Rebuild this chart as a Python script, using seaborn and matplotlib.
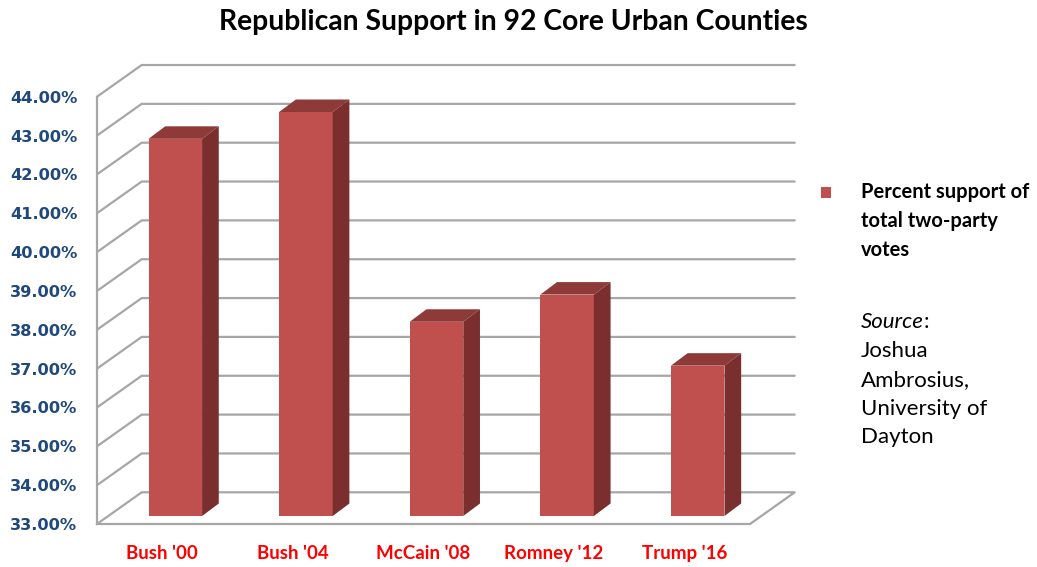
import matplotlib
matplotlib.use("Agg")
import matplotlib.pyplot as plt
import matplotlib.transforms as mtransforms
from matplotlib.patches import Polygon, Rectangle
from matplotlib.lines import Line2D
import seaborn as sns

# data
candidates = ["Bush '00", "Bush '04", "McCain '08", "Romney '12", "Trump '16"]
support = [42.71, 43.40, 38.00, 38.70, 36.87]
y_ticks = [33, 34, 35, 36, 37, 38, 39, 40, 41, 42, 43, 44]
legend_label = "Percent support of\ntotal two-party\nvotes"
source_lines = ["Joshua", "Ambrosius,", "University of", "Dayton"]

BASE = 33
FRONT = "#C0504D"
TOP = "#8E3A38"
SIDE = "#7A2E2D"
GRID = "#A6A6A6"
TICK_BLUE = "#1F497D"

# fake 3d depth, in pixels (display y goes up)
DX, DY = 44.7, 31.7      # back wall offset
FX, FY = 13, 8           # front face of bars
SX, SY = 16.7, 12.5      # bar depth

sns.set_style("white")
plt.rcParams["font.family"] = ["Lato", "DejaVu Sans"]
plt.rcParams["text.color"] = "black"

fig = plt.figure(figsize=(10.37, 5.67), dpi=100)
W, H = 1037, 567
ax = fig.add_axes([97 / W, (H - 524) / H, (750 - 97) / W, (524 - 96.7) / H])

sns.barplot(x=candidates, y=support, width=0.41, color=FRONT, saturation=1,
            ax=ax, zorder=3)
ax.set_xlim(-0.5, 4.5)
ax.set_ylim(BASE, 44)

# walls and gridlines (display coords)
ident = mtransforms.IdentityTransform()
for v in y_ticks:
    x0, y0 = ax.transData.transform((-0.5, v))
    x1, y1 = ax.transData.transform((4.5, v))
    xs = [x0, x0 + DX, x1 + DX]
    ys = [y0, y0 + DY, y1 + DY]
    if v == BASE:
        xs.append(x1)
        ys.append(y1)
    ln = Line2D(xs, ys, color=GRID, lw=1.6, transform=ident, zorder=1)
    ln.set_clip_on(False)
    ax.add_artist(ln)

# bars: front face shifted, plus top and side faces
front_tr = mtransforms.offset_copy(ax.transData, fig=fig, x=FX, y=FY, units="dots")
for p, v in zip(list(ax.patches), support):
    p.set_y(BASE)
    p.set_height(v - BASE)
    p.set_transform(front_tr)
    p.set_clip_on(False)
    p.set_edgecolor("none")
    x0 = p.get_x()
    x1 = x0 + p.get_width()
    (ax0, ay0), (ax1, ay1) = front_tr.transform([(x0, BASE), (x1, v)])
    top = Polygon([(ax0, ay1), (ax1, ay1), (ax1 + SX, ay1 + SY), (ax0 + SX, ay1 + SY)],
                  closed=True, facecolor=TOP, edgecolor="none", transform=ident, zorder=4)
    side = Polygon([(ax1, ay0), (ax1, ay1), (ax1 + SX, ay1 + SY), (ax1 + SX, ay0 + SY)],
                   closed=True, facecolor=SIDE, edgecolor="none", transform=ident, zorder=4)
    for face in (top, side):
        face.set_clip_on(False)
        ax.add_artist(face)

for s in ["top", "right"]:
    ax.spines[s].set_visible(False)
for s in ["left", "bottom"]:
    ax.spines[s].set_color(GRID)
    ax.spines[s].set_linewidth(1.6)
ax.patch.set_alpha(0)

ax.set_yticks(y_ticks)
ax.set_yticklabels([f"{v:.2f}%" for v in y_ticks], color=TICK_BLUE,
                   fontsize=11.7, fontweight="bold", family="DejaVu Sans")
ax.tick_params(axis="y", length=5, color=GRID, width=1.6, pad=9)
ax.set_xticks(range(len(candidates)))
ax.set_xticklabels(candidates, color="#FF0000", fontsize=13.5, fontweight="bold")
ax.set_xticks([i - 0.5 for i in range(len(candidates) + 1)], minor=True)
ax.tick_params(axis="x", which="major", length=0, pad=15)
ax.tick_params(axis="x", which="minor", length=5, color=GRID, width=1.6)
ax.set_xlabel("")
ax.set_ylabel("")

fig.text(513 / W, 1 - 22 / H, "Republican Support in 92 Core Urban Counties",
         ha="center", va="center", fontsize=20.3, fontweight="bold")

# legend
fig.patches.append(Rectangle((821 / W, 1 - 198 / H), 10 / W, 11 / H,
                             transform=fig.transFigure, facecolor=FRONT,
                             edgecolor="none"))
fig.text(861 / W, 1 - 182 / H, legend_label, ha="left", va="top",
         fontsize=14.5, fontweight="bold", linespacing=1.55)

src = fig.text(861 / W, 1 - 322 / H, "Source", ha="left", va="center",
               fontsize=16, fontstyle="italic")
ax.annotate(":", xy=(1, 0), xycoords=src, ha="left", va="bottom", fontsize=16)
fig.text(861 / W, 1 - 341 / H, "\n".join(source_lines), ha="left", va="top",
         fontsize=16, linespacing=1.55)

fig.savefig("out.png", dpi=100)
